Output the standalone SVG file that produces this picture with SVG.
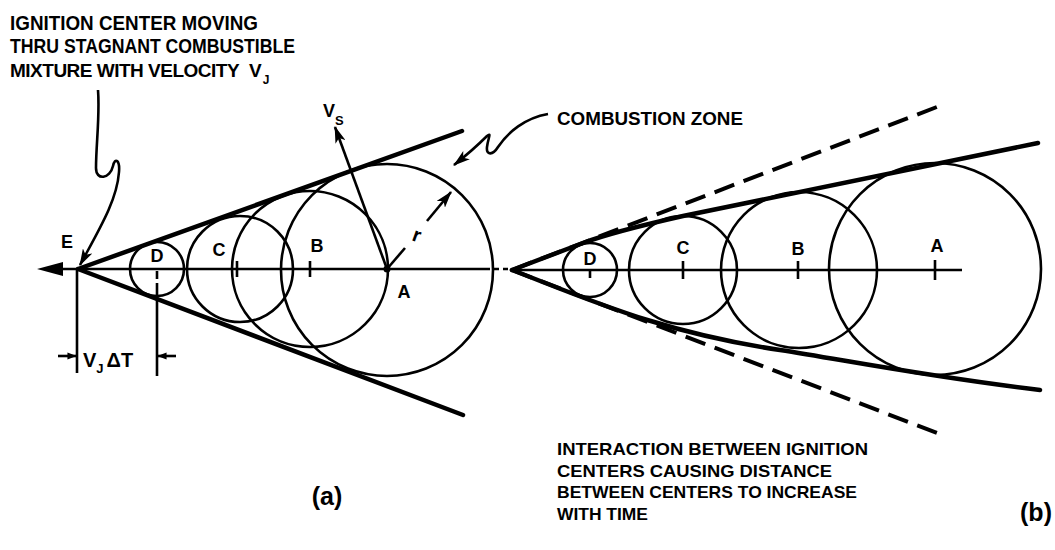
<svg xmlns="http://www.w3.org/2000/svg" width="1055" height="550" viewBox="0 0 1055 550">
<style>
.t{font-family:"Liberation Sans",Arial,sans-serif;font-weight:bold;fill:#000}
.ln{stroke:#000;stroke-width:2.6;fill:none}
.thk{stroke:#000;stroke-width:4.5;fill:none;stroke-linecap:round}
.dsh{stroke:#000;stroke-width:4;fill:none;stroke-dasharray:21 10}
</style>
<defs>
<marker id="ah" viewBox="0 0 16 10" refX="15" refY="5" markerWidth="17" markerHeight="11" markerUnits="userSpaceOnUse" orient="auto"><path d="M0,0 L16,5 L0,10 L4,5 Z" fill="#000"/></marker>
<marker id="as" viewBox="0 0 10 8" refX="9.5" refY="4" markerWidth="9" markerHeight="8" markerUnits="userSpaceOnUse" orient="auto"><path d="M0,0 L10,4 L0,8 Z" fill="#000"/></marker>
</defs>
<rect width="1055" height="550" fill="#fff"/>

<g id="title-a">
<text class="t" x="10" y="30" font-size="20" textLength="248" lengthAdjust="spacingAndGlyphs">IGNITION CENTER MOVING</text>
<text class="t" x="10" y="53" font-size="20" textLength="285" lengthAdjust="spacingAndGlyphs">THRU STAGNANT COMBUSTIBLE</text>
<text class="t" x="10" y="77" font-size="19" letter-spacing="-0.5">MIXTURE WITH VELOCITY<tspan x="249" letter-spacing="0">V</tspan><tspan dx="1" dy="7" font-size="12" letter-spacing="0">J</tspan></text>
</g>

<g id="diagram-a">
<g id="circles-a">
<circle class="ln" cx="157" cy="269" r="27"/>
<circle class="ln" cx="240" cy="269" r="53"/>
<circle class="ln" cx="310" cy="269" r="78"/>
<circle class="ln" cx="387" cy="270" r="106"/>
</g>
<line class="ln" x1="62" y1="269" x2="490" y2="269"/>
<path d="M37,269 L63,262 L63,276 Z" fill="#000"/>
<path d="M494,269 H499 M503,269 H508" class="ln"/>
<line class="thk" x1="78" y1="269" x2="462" y2="131"/>
<line class="thk" x1="78" y1="269" x2="463" y2="415"/>
<path class="ln" d="M237,261 V277 M310,261 V277"/>
<circle cx="387" cy="269" r="3.5" fill="#000"/>
<line class="ln" x1="387" y1="269" x2="335" y2="127" marker-end="url(#ah)"/>
<path class="ln" d="M387,269 L405,248"/>
<line class="ln" x1="427" y1="221" x2="451" y2="192" marker-end="url(#ah)"/>
<text class="t" x="0" y="0" font-size="20" transform="translate(411,240) rotate(20)">r</text>
<text class="t" x="323" y="117" font-size="18">V<tspan dy="8" font-size="13">S</tspan></text>
<text class="t" x="67" y="248" font-size="18" text-anchor="middle">E</text>
<text class="t" x="157" y="262" font-size="18" text-anchor="middle">D</text>
<text class="t" x="219" y="256" font-size="18" text-anchor="middle">C</text>
<text class="t" x="317" y="252" font-size="18" text-anchor="middle">B</text>
<text class="t" x="404" y="298" font-size="18" text-anchor="middle">A</text>
</g>

<g id="dimension-a">
<path class="ln" d="M77,270 V373 M157,271 V279 M157,283 V376"/>
<line class="ln" x1="58" y1="356" x2="76" y2="356" marker-end="url(#as)"/>
<line class="ln" x1="176" y1="356" x2="158" y2="356" marker-end="url(#as)"/>
<text class="t" x="83" y="367" font-size="20">V<tspan dy="6" font-size="13">J</tspan><tspan dx="3" dy="-6" font-size="20">ΔT</tspan></text>
</g>

<g id="connectors">
<path class="ln" d="M98,90 C100,115 96,145 96,168 C96,181 110,179 113,166 C115,157 120,160 119,172 C117,200 100,228 80,265" marker-end="url(#ah)"/>
<path class="ln" d="M548,114 C525,118 508,132 498,147 C493,155 486,156 487,147 C488,138 492,132 487,136 C480,143 468,154 454,165" marker-end="url(#ah)"/>
</g>

<g id="label-combustion">
<text class="t" x="557" y="125" font-size="18" textLength="186" lengthAdjust="spacingAndGlyphs">COMBUSTION ZONE</text>
</g>

<text class="t" x="327" y="505" font-size="25" text-anchor="middle">(a)</text>

<g id="diagram-b">
<g id="circles-b">
<circle class="ln" cx="590" cy="270" r="27"/>
<circle class="ln" cx="683" cy="270" r="54"/>
<circle class="ln" cx="799" cy="270" r="78"/>
<circle class="ln" cx="935" cy="269" r="106"/>
</g>
<line class="ln" x1="512" y1="270" x2="962" y2="270"/>
<path class="dsh" d="M512,270 L942,105"/>
<path class="dsh" d="M512,270 L945,436"/>
<path class="thk" d="M512,270 L583,243 Q612,232 683,216 L1038,143"/>
<path class="thk" d="M512,270 C590,300 660,332 780,350 C850,361 930,377 1040,390"/>
<path class="ln" d="M590,270 V278 M683,261 V279 M798,261 V279 M935,260 V280"/>
<text class="t" x="590" y="265" font-size="18" text-anchor="middle">D</text>
<text class="t" x="683" y="254" font-size="18" text-anchor="middle">C</text>
<text class="t" x="798" y="255" font-size="18" text-anchor="middle">B</text>
<text class="t" x="937" y="252" font-size="18" text-anchor="middle">A</text>
</g>

<g id="caption-b">
<text class="t" x="557" y="455" font-size="17" textLength="311" lengthAdjust="spacingAndGlyphs">INTERACTION BETWEEN IGNITION</text>
<text class="t" x="557" y="477" font-size="17" textLength="275" lengthAdjust="spacingAndGlyphs">CENTERS CAUSING DISTANCE</text>
<text class="t" x="557" y="498" font-size="17" textLength="300" lengthAdjust="spacingAndGlyphs">BETWEEN CENTERS TO INCREASE</text>
<text class="t" x="557" y="520" font-size="17" textLength="91" lengthAdjust="spacingAndGlyphs">WITH TIME</text>
</g>
<text class="t" x="1036" y="521" font-size="25" text-anchor="middle">(b)</text>
</svg>
